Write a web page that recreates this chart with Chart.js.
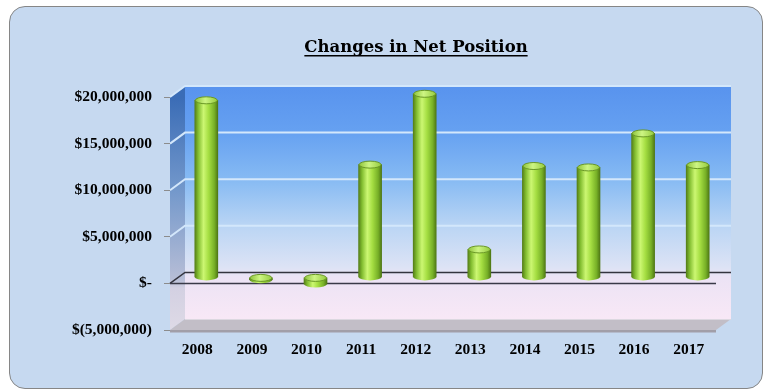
<!DOCTYPE html>
<html>
<head>
<meta charset="utf-8">
<title>Changes in Net Position</title>
<script src="https://cdn.jsdelivr.net/npm/chart.js@4.4.1/dist/chart.umd.min.js"></script>
<style>
  html, body { margin: 0; padding: 0; background: #fff; }
  #frame {
    position: absolute; left: 9px; top: 6px; width: 754px; height: 383px;
    box-sizing: border-box; border: 1.5px solid #868686; border-radius: 16px;
    background: #c6d9f0;
  }
  #wrap { position: absolute; left: 0; top: 0; width: 766px; height: 390px; }
</style>
</head>
<body>
<div id="frame"></div>
<div id="wrap"><canvas id="myChart" width="766" height="390"></canvas></div>
<script>
// data
const years = ['2008', '2009', '2010', '2011', '2012', '2013', '2014', '2015', '2016', '2017'];
const netChange = [19000000, -250000, -700000, 12100000, 19700000, 3000000, 11950000, 11800000, 15450000, 12050000];
const tickValues = [-5000000, 0, 5000000, 10000000, 15000000, 20000000];
const tickLabels = ['$(5,000,000)', '$-', '$5,000,000', '$10,000,000', '$15,000,000', '$20,000,000'];
const chartTitle = 'Changes in Net Position';

// fake 3d depth of the plot box, and where the bars sit inside it
const DX = 15, DY = 11;
const BAR_DX = 9, BAR_DY = -6;

const tickFont = { family: 'Liberation Serif', size: 15.5, weight: 'bold' };
const titleFont = 'bold 16.5px "DejaVu Serif"';

// green cylinder shading across one bar
const cylinderFill = (ctx, x, w) => {
  const g = ctx.createLinearGradient(x - w / 2, 0, x + w / 2, 0);
  g.addColorStop(0, '#557f18');
  g.addColorStop(0.15, '#82bd30');
  g.addColorStop(0.38, '#ccf772');
  g.addColorStop(0.6, '#a5de42');
  g.addColorStop(0.85, '#77b027');
  g.addColorStop(1, '#4f7815');
  return g;
};

/* walls + floor behind everything */
const walls = {
  id: 'walls',
  beforeDraw(chart) {
    const { ctx, chartArea: a, scales: { y } } = chart;
    const top = y.getPixelForValue(tickValues[tickValues.length - 1]);
    const bottom = y.getPixelForValue(tickValues[0]);
    const zero = y.getPixelForValue(0);
    const span = bottom - top;
    const zf = (zero - top) / span;
    ctx.save();

    // back wall
    let g = ctx.createLinearGradient(0, top - DY, 0, bottom - DY);
    g.addColorStop(0, '#5893ee');
    g.addColorStop(0.2, '#66a1f1');
    g.addColorStop(0.4, '#86baf3');
    g.addColorStop(0.6, '#bad5f4');
    g.addColorStop(zf - 0.02, '#dde3f5');
    g.addColorStop(zf + 0.02, '#ece3f5');
    g.addColorStop(1, '#f8e8f6');
    ctx.fillStyle = g;
    ctx.fillRect(a.left + DX, top - DY, a.right - a.left, span);

    // side wall
    g = ctx.createLinearGradient(0, top, 0, bottom);
    g.addColorStop(0, '#3a6cb6');
    g.addColorStop(0.4, '#7398cb');
    g.addColorStop(zf - 0.02, '#b6bdd6');
    g.addColorStop(zf + 0.02, '#d3d0e2');
    g.addColorStop(1, '#dedae6');
    ctx.fillStyle = g;
    ctx.beginPath();
    ctx.moveTo(a.left, top);
    ctx.lineTo(a.left + DX, top - DY);
    ctx.lineTo(a.left + DX, bottom - DY);
    ctx.lineTo(a.left, bottom);
    ctx.closePath();
    ctx.fill();

    // grid lines on both walls
    ctx.strokeStyle = '#d3e7fb';
    ctx.lineWidth = 2;
    tickValues.forEach(v => {
      if (v <= 0) return;
      const py = y.getPixelForValue(v);
      ctx.beginPath();
      ctx.moveTo(a.left, py);
      ctx.lineTo(a.left + DX, py - DY);
      ctx.lineTo(a.right + DX, py - DY);
      ctx.stroke();
    });

    // floor
    ctx.fillStyle = '#c2bec7';
    ctx.beginPath();
    ctx.moveTo(a.left, bottom);
    ctx.lineTo(a.left + DX, bottom - DY);
    ctx.lineTo(a.right + DX, bottom - DY);
    ctx.lineTo(a.right, bottom);
    ctx.closePath();
    ctx.fill();
    ctx.fillStyle = '#a19ea8';
    ctx.fillRect(a.left, bottom, a.right - a.left, 2.5);
    ctx.strokeStyle = '#dcd8e0';
    ctx.lineWidth = 1;
    ctx.beginPath();
    ctx.moveTo(a.left + DX, bottom - DY + 0.5);
    ctx.lineTo(a.right + DX, bottom - DY + 0.5);
    ctx.stroke();

    // zero line along the back wall and across the side wall
    ctx.strokeStyle = '#34343f';
    ctx.lineWidth = 1.5;
    ctx.beginPath();
    ctx.moveTo(a.left, zero);
    ctx.lineTo(a.left + DX, zero - DY);
    ctx.lineTo(a.right + DX, zero - DY);
    ctx.stroke();
    ctx.restore();
  }
};

/* front zero line, then shift the bars back into the box and cap them */
const cylinders = {
  id: 'cylinders',
  beforeDatasetsDraw(chart) {
    const { ctx, chartArea: a, scales: { y } } = chart;
    const zero = y.getPixelForValue(0);
    ctx.save();
    ctx.strokeStyle = '#3a3a48';
    ctx.lineWidth = 1.5;
    ctx.beginPath();
    ctx.moveTo(a.left, zero);
    ctx.lineTo(a.right, zero);
    ctx.stroke();
    ctx.restore();

    ctx.save();
    ctx.translate(BAR_DX, BAR_DY);
  },
  afterDatasetsDraw(chart) {
    const ctx = chart.ctx;
    chart.getDatasetMeta(0).data.forEach(bar => {
      const { x, y, base, width } = bar.getProps(['x', 'y', 'base', 'width'], true);
      const hi = Math.min(y, base), lo = Math.max(y, base);
      const rx = width / 2, ry = 3.5;
      // rounded bottom
      ctx.fillStyle = cylinderFill(ctx, x, width);
      ctx.beginPath();
      ctx.ellipse(x, lo, rx, ry, 0, 0, Math.PI);
      ctx.fill();
      // top cap
      const g = ctx.createLinearGradient(x - rx, 0, x + rx, 0);
      g.addColorStop(0, '#8cc238');
      g.addColorStop(0.45, '#cdf583');
      g.addColorStop(1, '#93ca3c');
      ctx.fillStyle = g;
      ctx.strokeStyle = '#6a9826';
      ctx.lineWidth = 1;
      ctx.beginPath();
      ctx.ellipse(x, hi, rx - 0.5, ry, 0, 0, Math.PI * 2);
      ctx.fill();
      ctx.stroke();
    });
    ctx.restore();
  }
};

/* underlined title, centred between the axis labels and the right edge */
const underlinedTitle = {
  id: 'underlinedTitle',
  afterDraw(chart) {
    const ctx = chart.ctx;
    const cx = (chart.scales.y.left + chart.width) / 2;
    const baseline = 51.5;
    ctx.save();
    ctx.font = titleFont;
    ctx.fillStyle = '#000';
    ctx.textAlign = 'center';
    ctx.textBaseline = 'alphabetic';
    ctx.fillText(chartTitle, cx, baseline);
    const w = ctx.measureText(chartTitle).width;
    ctx.fillRect(cx - w / 2, baseline + 3.5, w, 1.5);
    ctx.restore();
  }
};

const ctx = document.getElementById('myChart').getContext('2d');

const config = {
  type: 'bar',
  data: {
    labels: years,
    datasets: [{
      label: chartTitle,
      data: netChange,
      barThickness: 23,
      borderWidth: 0,
      clip: false,
      backgroundColor: (c) => {
        if (c.type !== 'data' || !c.chart.chartArea) return '#a5de42';
        const x = c.chart.scales.x.getPixelForValue(c.dataIndex);
        return cylinderFill(c.chart.ctx, x, 23);
      }
    }]
  },
  options: {
    responsive: false,
    animation: false,
    layout: { padding: { left: 66, right: 50, top: 97, bottom: 0 } },
    plugins: {
      legend: { display: false },
      tooltip: { enabled: false },
      title: { display: false }
    },
    scales: {
      x: {
        grid: { display: false, drawTicks: false },
        border: { display: false },
        ticks: { color: '#000', font: tickFont, padding: 11, maxRotation: 0 },
        afterFit: (axis) => { axis.height = 60; }
      },
      y: {
        min: tickValues[0],
        max: tickValues[tickValues.length - 1],
        grid: { drawOnChartArea: false, drawTicks: true, tickLength: 6, color: '#8c8c8c' },
        border: { display: false },
        ticks: {
          stepSize: 5000000,
          color: '#000',
          font: tickFont,
          padding: 12,
          callback: (value) => tickLabels[tickValues.indexOf(value)]
        },
        afterFit: (axis) => { axis.width = 104; }
      }
    }
  },
  plugins: [walls, cylinders, underlinedTitle]
};

const myChart = new Chart(ctx, config);
</script>
</body>
</html>
